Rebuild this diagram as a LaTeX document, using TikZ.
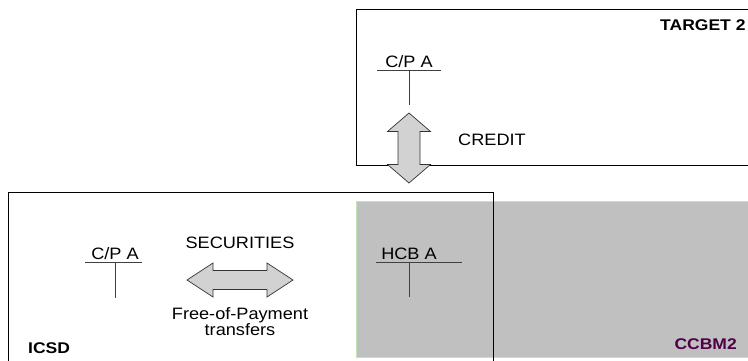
\documentclass[tikz,border=0pt]{standalone}
\usepackage{fontspec}
\setmainfont{Liberation Sans}
\usepackage{xcolor}
\usepackage{tikz}
\usetikzlibrary{positioning}

\definecolor{ccbmgray}{RGB}{192,192,192}
\definecolor{ccbmedge}{RGB}{196,228,180}
\definecolor{ccbmtext}{RGB}{78,0,72}
\definecolor{flowgray}{RGB}{210,210,210}

\tikzset{
  acct/.style={font=\fontsize{16.5}{18}\selectfont, xscale=1.1, inner xsep=0pt, inner ysep=2pt},
  lbl/.style={font=\fontsize{16.5}{16}\selectfont, xscale=1.1, inner sep=0pt, align=center},
  boxname/.style={font=\bfseries\fontsize{15.5}{17}\selectfont, xscale=1.13, inner sep=0pt},
  tline/.style={draw=black!75, line width=0.8pt},
  frame/.style={draw=black, line width=0.9pt},
  flow/.style={draw=black!80, fill=flowgray, line width=0.7pt, line join=miter}
}

\begin{document}
\begin{tikzpicture}[x=1pt,y=-1pt]
\useasboundingbox (0,0) rectangle (748,360);
\clip (0,0) rectangle (748,360);

% CCBM2 area
\draw[fill=ccbmgray, draw=ccbmedge, line width=0.8pt] (356,201) rectangle (770,357);
\node[boxname, text=ccbmtext, anchor=east] (ccbm) at (737,344) {CCBM2};

% TARGET 2 box
\draw[frame] (356,9) rectangle (770,165);
\node[boxname, anchor=west] (tgt) at (660,25) {TARGET 2};

% ICSD box
\draw[frame] (8,192) rectangle (493,375);
\node[boxname, anchor=west] (icsd) at (28,348) {ICSD};

% accounts
\node[acct] (cpt) at (409,62) {C/P A};
\draw[tline] ([xshift=-8]cpt.south west) -- ([xshift=8]cpt.south east);
\draw[tline] (cpt.south) -- ++(0,35);

\node[acct] (cpi) at (115,254) {C/P A};
\draw[tline] ([xshift=-6]cpi.south west) -- ([xshift=3]cpi.south east);
\draw[tline] (cpi.south) -- ++(0,36);

\node[acct] (hcb) at (409,254) {HCB A};
\draw[tline] ([xshift=-5]hcb.south west) -- ([xshift=25]hcb.south east);
\draw[tline] (hcb.south) -- ++(0,35);

% cash leg
\coordinate (cr) at (409,148);
\draw[flow] (cr) ++(0,-35) -- ++(21.5,18.5) -- ++(-10.5,0) -- ++(0,33)
  -- ++(10.5,0) -- ++(-21.5,18.5) -- ++(-21.5,-18.5) -- ++(10.5,0)
  -- ++(0,-33) -- ++(-10.5,0) -- cycle;
\node[lbl] (credit) at (492,140) {CREDIT};

% securities leg
\coordinate (sec) at (240,280);
\draw[flow] (sec) ++(-53,0) -- ++(26,-17) -- ++(0,7.5) -- ++(54,0)
  -- ++(0,-7.5) -- ++(26,17) -- ++(-26,17) -- ++(0,-7.5) -- ++(-54,0)
  -- ++(0,7.5) -- cycle;
\node[lbl] (secl) at (240,243) {SECURITIES};
\node[lbl] (fop) at (240,322) {Free-of-Payment\\transfers};

\end{tikzpicture}
\end{document}
